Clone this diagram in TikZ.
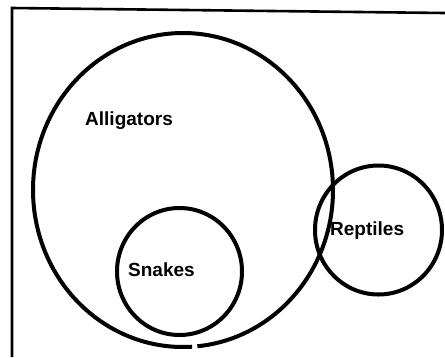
\documentclass[tikz,border=0pt]{standalone}
\usepackage{fontspec}
\setmainfont{Liberation Sans}
\begin{document}
\begin{tikzpicture}[x=1pt,y=-1pt,
  frame/.style={line width=2.6pt,black},
  setline/.style={line width=4pt,black},
  lbl/.style={anchor=base west,inner sep=0pt,font=\fontsize{19}{19}\selectfont\bfseries}]
\useasboundingbox (0,0) rectangle (445,357);
% frame (top and left edges only)
\coordinate (ftl) at (12,8);
\coordinate (ftr) at (445,13);
\coordinate (fbl) at (12,357);
\draw[frame] (ftr) -- (ftl) -- (fbl);
% circles
\coordinate (cA) at (183,190);
\coordinate (cS) at (179.5,271.5);
\coordinate (cR) at (378.5,230);
\draw[setline] (cA) ++(86.5:150 and 157) arc[start angle=86.5, end angle=444.5, x radius=150, y radius=157];
\draw[setline] (cS) ellipse[x radius=62.5, y radius=63.5];
\draw[setline] (cR) ellipse[x radius=63.5, y radius=64.5];
% labels
\node[lbl] (alligators) at (85,125) {Alligators};
\node[lbl] (snakes) at (128,276) {Snakes};
\node[lbl] (reptiles) at (330,235) {Reptiles};
\end{tikzpicture}
\end{document}
